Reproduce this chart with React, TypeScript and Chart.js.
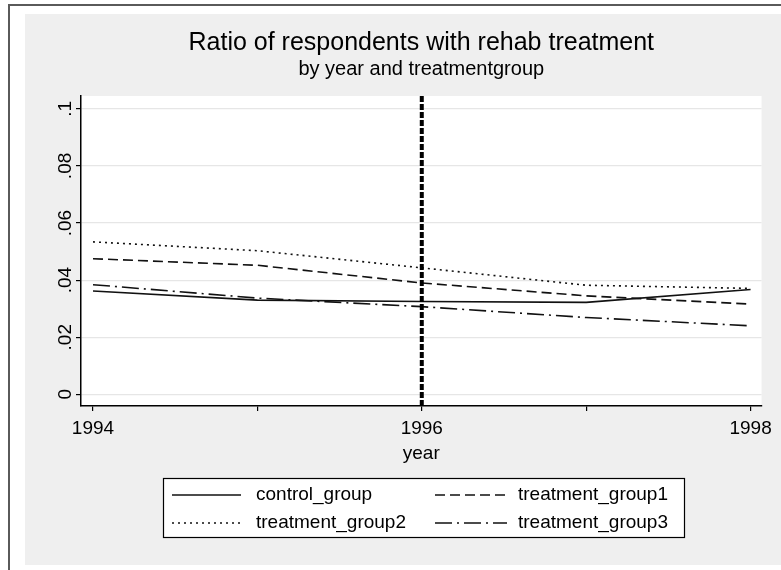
import React, { useEffect, useRef } from "react";
import { Chart, registerables } from "chart.js";

Chart.register(...registerables);

// ---- data ----
const years = [1994, 1995, 1996, 1997, 1998];
const controlGroup = [0.0362, 0.033, 0.0325, 0.0322, 0.0367];
const treatmentGroup1 = [0.0475, 0.0452, 0.039, 0.0345, 0.0316];
const treatmentGroup2 = [0.0534, 0.0503, 0.0443, 0.0382, 0.0371];
const treatmentGroup3 = [0.0384, 0.0337, 0.0307, 0.0269, 0.024];
const seriesLabels = ["control_group", "treatment_group1", "treatment_group2", "treatment_group3"];
const xTicks = [1994, 1995, 1996, 1997, 1998];
const xTickLabels = ["1994", "", "1996", "", "1998"];
const yTicks = [0, 0.02, 0.04, 0.06, 0.08, 0.1];
const yTickLabels = ["0", ".02", ".04", ".06", ".08", ".1"];
const referenceYear = 1996;
const titleText = "Ratio of respondents with rehab treatment";
const subtitleText = "by year and treatmentgroup";
const xAxisTitle = "year";
const xRange = [1993.927, 1998.067];
const yRange = [-0.0041, 0.1045];

const FONT = "'Liberation Sans', Arial, sans-serif";
const LINE_COLOR = "#111111";

export default function App() {
  const ref = useRef<HTMLCanvasElement | null>(null);

  useEffect(() => {
    const canvas = ref.current;
    if (!canvas) return;

    const seriesValues = [controlGroup, treatmentGroup1, treatmentGroup2, treatmentGroup3];
    const dashes: number[][] = [[], [10, 5], [2, 4], [17, 5, 2, 5]];

    const seriesDatasets = seriesValues.map((vals, i) => ({
      type: "line" as const,
      label: seriesLabels[i],
      data: years.map((x, j) => ({ x, y: vals[j] })),
      borderColor: LINE_COLOR,
      borderWidth: 1.6,
      borderDash: dashes[i],
      borderCapStyle: "butt" as const,
      pointRadius: 0,
      tension: 0,
      fill: false,
    }));

    const refLine = {
      type: "line" as const,
      label: "",
      isRefLine: true,
      data: [
        { x: referenceYear, y: yRange[0] },
        { x: referenceYear, y: yRange[1] },
      ],
      borderColor: "#000000",
      borderWidth: 4,
      borderDash: [6, 2],
      pointRadius: 0,
      fill: false,
    };

    const backgroundPlugin = {
      id: "stataBackground",
      beforeDraw(chart: any) {
        const { ctx, width, height, chartArea } = chart;
        ctx.save();
        ctx.fillStyle = "#ffffff";
        ctx.fillRect(0, 0, width, height);
        ctx.fillStyle = "#efefef";
        ctx.fillRect(25, 14, width - 25, 565 - 14);
        ctx.strokeStyle = "#5a5a5a";
        ctx.lineWidth = 2;
        ctx.beginPath();
        ctx.moveTo(9, height);
        ctx.lineTo(9, 5);
        ctx.lineTo(width, 5);
        ctx.stroke();
        ctx.fillStyle = "#ffffff";
        ctx.fillRect(chartArea.left, chartArea.top, chartArea.right - chartArea.left, chartArea.bottom - chartArea.top);
        ctx.restore();
      },
    };

    const textPlugin = {
      id: "stataText",
      afterDraw(chart: any) {
        const { ctx, chartArea, scales } = chart;
        const cx = (chartArea.left + chartArea.right) / 2;
        ctx.save();
        ctx.fillStyle = "#000000";
        ctx.textAlign = "center";
        ctx.textBaseline = "middle";
        ctx.font = `25px ${FONT}`;
        ctx.fillText(titleText, cx, 43);
        ctx.font = `20px ${FONT}`;
        ctx.fillText(subtitleText, cx, 69);

        // rotated y tick labels
        ctx.font = `19px ${FONT}`;
        yTicks.forEach((v, i) => {
          const py = scales.y.getPixelForValue(v);
          ctx.save();
          ctx.translate(66, py);
          ctx.rotate(-Math.PI / 2);
          ctx.textAlign = "center";
          ctx.textBaseline = "middle";
          ctx.fillText(yTickLabels[i], 0, 0);
          ctx.restore();
        });

        // legend
        const box = { l: 163, t: 478, r: 684, b: 537 };
        ctx.fillStyle = "#ffffff";
        ctx.fillRect(box.l, box.t, box.r - box.l, box.b - box.t);
        ctx.strokeStyle = "#000000";
        ctx.lineWidth = 1.2;
        ctx.setLineDash([]);
        ctx.strokeRect(box.l + 0.5, box.t + 0.5, box.r - box.l, box.b - box.t);
        const rows = [495, 523];
        const sampleX = [
          [172, 241],
          [435, 507],
        ];
        const textX = [256, 518];
        const items = chart.data.datasets.filter((d: any) => !d.isRefLine);
        items.forEach((d: any, i: number) => {
          const r = Math.floor(i / 2);
          const c = i % 2;
          const y = rows[r];
          ctx.save();
          ctx.strokeStyle = d.borderColor;
          ctx.lineWidth = d.borderWidth;
          ctx.setLineDash(d.borderDash || []);
          ctx.beginPath();
          ctx.moveTo(sampleX[c][0], y);
          ctx.lineTo(sampleX[c][1], y);
          ctx.stroke();
          ctx.restore();
          ctx.fillStyle = "#000000";
          ctx.textAlign = "left";
          ctx.textBaseline = "middle";
          ctx.font = `19px ${FONT}`;
          ctx.fillText(d.label, textX[c], y);
        });
        ctx.restore();
      },
    };

    const chart = new Chart(canvas, {
      type: "line",
      data: { datasets: [refLine as any, ...seriesDatasets] },
      options: {
        animation: false,
        responsive: false,
        devicePixelRatio: 1,
        layout: { padding: { left: 76, right: 19, top: 96, bottom: 109 } },
        plugins: {
          legend: { display: false },
          title: { display: false },
          tooltip: { enabled: false },
        },
        scales: {
          x: {
            type: "linear",
            min: xRange[0],
            max: xRange[1],
            afterBuildTicks: (scale: any) => {
              scale.ticks = xTicks.map((v) => ({ value: v }));
            },
            grid: {
              drawOnChartArea: false,
              drawTicks: true,
              tickLength: 5,
              tickColor: "#000000",
              lineWidth: 1.2,
            },
            border: { display: true, color: "#000000", width: 1.5 },
            ticks: {
              autoSkip: false,
              maxRotation: 0,
              minRotation: 0,
              padding: 9,
              color: "#000000",
              font: { family: FONT, size: 19, lineHeight: "18px" },
              callback: (value: any) => {
                const idx = xTicks.indexOf(Number(value));
                return idx >= 0 ? xTickLabels[idx] : "";
              },
            },
            title: {
              display: true,
              text: xAxisTitle,
              color: "#000000",
              padding: { top: 0, bottom: 0 },
              font: { family: FONT, size: 19, lineHeight: "14px" },
            },
          },
          y: {
            type: "linear",
            min: yRange[0],
            max: yRange[1],
            afterBuildTicks: (scale: any) => {
              scale.ticks = yTicks.map((v) => ({ value: v }));
            },
            grid: {
              drawOnChartArea: true,
              drawTicks: true,
              tickLength: 5,
              color: "#e6e6e6",
              tickColor: "#000000",
              lineWidth: 1.2,
            },
            border: { display: true, color: "#000000", width: 1.5 },
            ticks: { display: false },
          },
        },
      },
      plugins: [backgroundPlugin, textPlugin],
    } as any);

    return () => chart.destroy();
  }, []);

  return (
    <div style={{ position: "absolute", left: 0, top: 0, width: 781, height: 570 }}>
      <canvas ref={ref} width={781} height={570} style={{ display: "block", width: 781, height: 570 }} />
    </div>
  );
}
